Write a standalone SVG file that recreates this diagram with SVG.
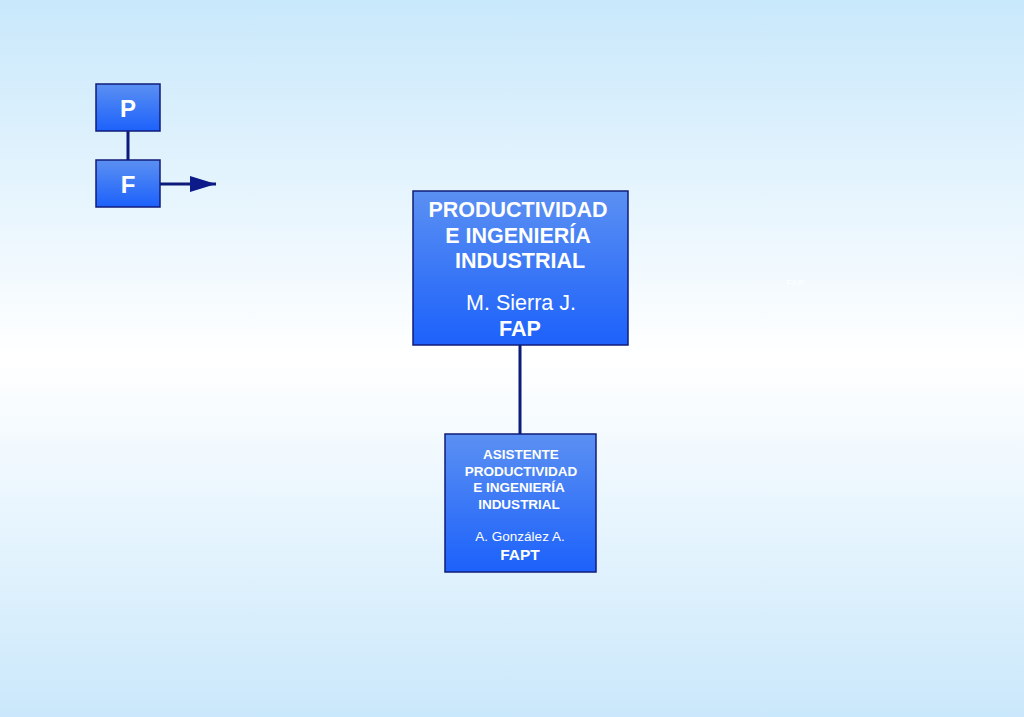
<svg xmlns="http://www.w3.org/2000/svg" width="1024" height="717" viewBox="0 0 1024 717">
<defs>
<linearGradient id="bg" x1="0" y1="0" x2="0" y2="1">
<stop offset="0" stop-color="#c8e8fb"/>
<stop offset="0.5" stop-color="#ffffff"/>
<stop offset="1" stop-color="#cae8fb"/>
</linearGradient>
<linearGradient id="box" x1="0" y1="0" x2="0" y2="1">
<stop offset="0" stop-color="#5b90f2"/>
<stop offset="1" stop-color="#1c61fb"/>
</linearGradient>
<marker id="arrow" markerWidth="26" markerHeight="16" refX="26" refY="8" orient="auto" markerUnits="userSpaceOnUse">
<path d="M0,0 L26,8 L0,16 Z" fill="#0c1a8a"/>
</marker>
</defs>
<style>
.node rect{fill:url(#box);stroke:#101c7a;stroke-width:1.5}
.t{font-family:"Liberation Sans",Arial,sans-serif;fill:#ffffff;text-anchor:middle}
.b{font-weight:bold}
.conn{stroke:#0c1a7a;stroke-width:3;fill:none}
</style>
<rect width="1024" height="717" fill="url(#bg)"/>
<g id="connectors">
<line class="conn" x1="128" y1="131" x2="128" y2="160"/>
<line class="conn" x1="160" y1="184" x2="216" y2="184" marker-end="url(#arrow)"/>
<line class="conn" x1="520" y1="345" x2="520" y2="434"/>
</g>
<g id="node-p" class="node">
<rect x="96" y="84" width="64" height="47"/>
<text class="t b" x="128" y="117" font-size="24">P</text>
</g>
<g id="node-f" class="node">
<rect x="96" y="160" width="64" height="47"/>
<text class="t b" x="128" y="193" font-size="24">F</text>
</g>
<g id="node-main" class="node">
<rect x="413" y="191" width="215" height="154"/>
<text class="t b" x="518" y="217" font-size="21.5">PRODUCTIVIDAD</text>
<text class="t b" x="518" y="243" font-size="21.5">E INGENIERÍA</text>
<text class="t b" x="520" y="268" font-size="21.5">INDUSTRIAL</text>
<text class="t" x="521" y="310" font-size="21.5">M. Sierra J.</text>
<text class="t b" x="520" y="336" font-size="21.5">FAP</text>
</g>
<g id="node-asistente" class="node">
<rect x="445" y="434" width="151" height="138"/>
<text class="t b" x="521" y="459" font-size="13.5">ASISTENTE</text>
<text class="t b" x="521" y="476" font-size="13.5">PRODUCTIVIDAD</text>
<text class="t b" x="519" y="492" font-size="13.5">E INGENIERÍA</text>
<text class="t b" x="519" y="509" font-size="13.5">INDUSTRIAL</text>
<text class="t" x="520" y="541" font-size="13.5">A. González A.</text>
<text class="t b" x="520" y="560" font-size="15.5">FAPT</text>
</g>
<text class="t b" x="795" y="286" font-size="9" fill-opacity="0.8">FAP</text>
</svg>
